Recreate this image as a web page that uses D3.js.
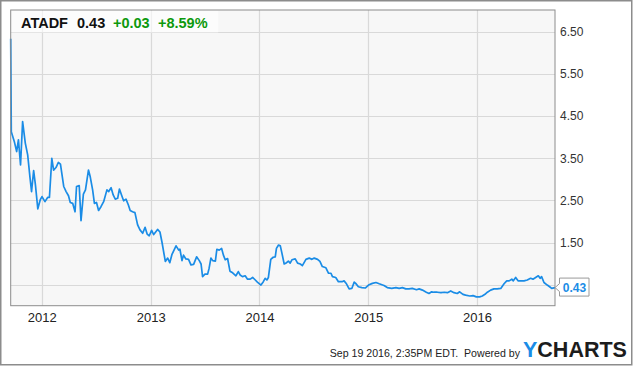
<!DOCTYPE html>
<html>
<head>
<meta charset="utf-8">
<script src="https://cdn.jsdelivr.net/npm/d3@7/dist/d3.min.js"></script>
<style>
  html, body { margin: 0; padding: 0; background: #fff; }
  svg { display: block; font-family: "Liberation Sans", Arial, sans-serif; }
</style>
</head>
<body>
<svg id="chart" width="635" height="366"></svg>
<script>
// ---- Data ----
const ticker = "ATADF";
const lastPrice = "0.43";
const change = "+0.03";
const changePct = "+8.59%";
const footerText = "Sep 19 2016, 2:35PM EDT.  Powered by";

const dates = [
  "2011-09-19","2011-09-21","2011-10-01","2011-10-09","2011-10-15","2011-10-22","2011-10-29","2011-11-07","2011-11-15","2011-11-23",
  "2011-11-28","2011-12-05","2011-12-11","2011-12-19","2011-12-27","2012-01-02","2012-01-12","2012-01-21","2012-01-27","2012-02-04",
  "2012-02-10","2012-02-18","2012-02-26","2012-03-04","2012-03-15","2012-03-23","2012-03-31","2012-04-06","2012-04-14","2012-04-22",
  "2012-04-27","2012-05-06","2012-05-12","2012-05-20","2012-05-27","2012-06-06","2012-06-12","2012-06-20","2012-06-26","2012-07-03",
  "2012-07-10","2012-07-18","2012-07-27","2012-08-07","2012-08-13","2012-08-21","2012-08-28","2012-09-04","2012-09-12","2012-09-18",
  "2012-09-25","2012-10-02","2012-10-10","2012-10-18","2012-10-24","2012-11-01","2012-11-09","2012-11-18","2012-11-26","2012-12-05",
  "2012-12-13","2012-12-20","2012-12-27","2013-01-04","2013-01-11","2013-01-24","2013-02-01","2013-02-08","2013-02-19","2013-02-27",
  "2013-03-06","2013-03-13","2013-03-27","2013-04-05","2013-04-09","2013-04-16","2013-04-21","2013-04-29","2013-05-08","2013-05-16",
  "2013-05-25","2013-06-04","2013-06-13","2013-06-19","2013-06-24","2013-07-02","2013-07-11","2013-07-16","2013-07-22","2013-07-28",
  "2013-08-06","2013-08-11","2013-08-19","2013-08-27","2013-09-02","2013-09-08","2013-09-16","2013-09-24","2013-10-03","2013-10-14",
  "2013-10-22","2013-10-28","2013-11-05","2013-11-14","2013-11-22","2013-12-01","2013-12-09","2013-12-18","2013-12-25","2014-01-06",
  "2014-01-14","2014-01-20","2014-01-26","2014-01-31","2014-02-08","2014-02-16","2014-02-23","2014-02-27","2014-03-06","2014-03-12",
  "2014-03-17","2014-03-25","2014-04-02","2014-04-08","2014-04-14","2014-04-20","2014-05-01","2014-05-09","2014-05-18","2014-05-25",
  "2014-06-06","2014-06-17","2014-06-26","2014-07-04","2014-07-15","2014-07-23","2014-07-31","2014-08-12","2014-08-21","2014-08-29",
  "2014-09-03","2014-09-14","2014-09-23","2014-10-05","2014-10-12","2014-10-20","2014-10-29","2014-11-07","2014-11-15","2014-11-20",
  "2014-11-29","2014-12-11","2014-12-22","2015-01-02","2015-01-15","2015-01-27","2015-02-07","2015-02-23","2015-03-06","2015-03-21",
  "2015-04-04","2015-04-15","2015-04-26","2015-05-07","2015-05-18","2015-05-29","2015-06-12","2015-06-21","2015-07-02","2015-07-15",
  "2015-07-24","2015-08-02","2015-08-10","2015-08-21","2015-09-02","2015-09-13","2015-09-24","2015-10-05","2015-10-16","2015-10-27",
  "2015-11-04","2015-11-15","2015-11-24","2015-12-08","2015-12-19","2015-12-30","2016-01-10","2016-01-19","2016-01-28","2016-02-05",
  "2016-02-16","2016-02-27","2016-03-09","2016-03-21","2016-04-01","2016-04-10","2016-04-18","2016-04-27","2016-05-02","2016-05-10",
  "2016-05-18","2016-05-27","2016-06-07","2016-06-18","2016-06-29","2016-07-07","2016-07-16","2016-07-25","2016-07-31","2016-08-05",
  "2016-08-13","2016-08-24","2016-09-01","2016-09-08","2016-09-19"
];
const prices = [
  6.34,4.13,3.90,3.66,3.94,3.34,4.37,3.86,3.58,3.03,
  2.71,3.21,2.87,2.30,2.51,2.59,2.47,2.57,2.57,3.50,
  3.22,3.28,3.40,3.36,2.83,2.71,2.61,2.45,2.43,2.23,
  2.83,2.85,2.02,2.65,2.75,3.22,3.06,2.75,2.43,2.45,
  2.26,2.35,2.47,2.75,2.71,2.80,2.63,2.53,2.55,2.77,
  2.63,2.49,2.53,2.39,2.26,2.23,2.21,1.92,1.80,1.72,
  1.86,1.70,1.66,1.79,1.69,1.81,1.75,1.50,1.05,1.13,
  1.02,1.21,1.42,1.32,1.34,1.07,1.20,1.11,1.10,0.97,
  0.98,1.16,1.07,0.99,0.69,0.75,0.75,0.89,1.13,1.07,
  1.06,1.34,1.32,1.36,1.20,1.09,1.12,0.82,0.78,0.71,
  0.81,0.73,0.69,0.71,0.63,0.63,0.67,0.61,0.56,0.49,
  0.57,0.65,0.61,0.67,1.10,1.15,1.16,1.36,1.44,1.42,
  1.26,0.99,1.02,1.06,1.01,1.09,1.11,1.01,0.99,0.95,
  1.10,1.13,1.10,1.13,1.10,1.05,0.93,0.90,0.77,0.77,
  0.69,0.67,0.57,0.57,0.59,0.52,0.40,0.41,0.56,0.53,
  0.45,0.43,0.42,0.49,0.53,0.55,0.52,0.48,0.43,0.41,
  0.43,0.41,0.43,0.40,0.40,0.41,0.38,0.40,0.37,0.32,
  0.29,0.33,0.32,0.32,0.31,0.32,0.31,0.35,0.31,0.29,
  0.33,0.27,0.25,0.23,0.24,0.21,0.21,0.23,0.27,0.32,
  0.37,0.40,0.40,0.41,0.52,0.59,0.59,0.63,0.59,0.67,
  0.59,0.59,0.59,0.61,0.65,0.63,0.67,0.71,0.65,0.69,
  0.55,0.49,0.45,0.41,0.43
];
const xTickYears = ["2012","2013","2014","2015","2016"];
const yGridValues = [0.5, 1.5, 2.5, 3.5, 4.5, 5.5, 6.5];
const yTickValues = [1.5, 2.5, 3.5, 4.5, 5.5, 6.5];
const yTickLabels = ["1.50","2.50","3.50","4.50","5.50","6.50"];
const xDomain = ["2011-09-19", "2016-09-19"];
const yDomain = [0, 7.02];

// ---- Layout ----
const plot = { left: 10.7, top: 10, right: 555, bottom: 305.7 };
const parse = d3.utcParse("%Y-%m-%d");
const data = dates.map((d, i) => ({ date: parse(d), value: prices[i] }));

const x = d3.scaleUtc().domain(xDomain.map(parse)).range([plot.left, plot.right]);
const y = d3.scaleLinear().domain(yDomain).range([plot.bottom, plot.top]);

const svg = d3.select("#chart");

// outer frame
svg.append("rect").attr("x", 0.75).attr("y", 0.75).attr("width", 631).attr("height", 364)
  .attr("fill", "#fff").attr("stroke", "#8c8c8c").attr("stroke-width", 1.5);

// plot background
svg.append("rect").attr("x", plot.left).attr("y", plot.top)
  .attr("width", plot.right - plot.left).attr("height", plot.bottom - plot.top)
  .attr("fill", "#f7f7f7");

// gridlines
const grid = svg.append("g").attr("stroke", "#d9d9d9").attr("stroke-width", 1.2);
grid.selectAll("line.h").data(yGridValues).join("line")
  .attr("x1", plot.left).attr("x2", plot.right)
  .attr("y1", d => Math.round(y(d)) + 0.5).attr("y2", d => Math.round(y(d)) + 0.5);
const yearDates = xTickYears.map(t => parse(t + "-01-01"));
grid.selectAll("line.v").data(yearDates).join("line")
  .attr("y1", plot.top).attr("y2", plot.bottom)
  .attr("x1", d => Math.round(x(d)) + 0.5).attr("x2", d => Math.round(x(d)) + 0.5);

// title box (semi-transparent)
svg.append("rect").attr("x", plot.left + 0.5).attr("y", plot.top + 0.5)
  .attr("width", 207).attr("height", 22).attr("fill", "rgba(255,255,255,0.6)");

// price line
const line = d3.line().x(d => x(d.date)).y(d => y(d.value));
svg.append("path").datum(data).attr("d", line)
  .attr("fill", "none").attr("stroke", "#1a8ce6").attr("stroke-width", 1.7)
  .attr("stroke-linejoin", "round");

// plot border
svg.append("rect").attr("x", plot.left).attr("y", plot.top)
  .attr("width", plot.right - plot.left).attr("height", plot.bottom - plot.top)
  .attr("fill", "none").attr("stroke", "#8c8c8c").attr("stroke-width", 1);

// title text
const title = svg.append("text").attr("y", 28).attr("font-size", 14.5).attr("font-weight", "bold");
title.append("tspan").attr("x", 21).attr("fill", "#111").text(ticker);
title.append("tspan").attr("x", 77).attr("fill", "#111").text(lastPrice);
title.append("tspan").attr("x", 113).attr("fill", "#0d990d").text(change);
title.append("tspan").attr("x", 158).attr("fill", "#0d990d").text(changePct);

// right axis
const yAxis = d3.axisRight(y).tickValues(yTickValues)
  .tickFormat((d, i) => yTickLabels[i]).tickSize(0).tickPadding(5);
const gy = svg.append("g").attr("transform", `translate(${plot.right},0)`).call(yAxis);
gy.select(".domain").remove();
gy.selectAll("text").attr("font-size", 12).attr("fill", "#333")
  .attr("font-family", "'Liberation Sans', Arial, sans-serif");

// bottom axis
const xAxis = d3.axisBottom(x).tickValues(yearDates)
  .tickFormat((d, i) => xTickYears[i]).tickSize(0).tickPadding(7);
const gx = svg.append("g").attr("transform", `translate(0,${plot.bottom})`).call(xAxis);
gx.select(".domain").remove();
gx.selectAll("text").attr("font-size", 13).attr("fill", "#222")
  .attr("font-family", "'Liberation Sans', Arial, sans-serif");

// last value tag
const last = data[data.length - 1];
const lx = x(last.date), ly = y(last.value);
const tag = svg.append("g");
tag.append("path")
  .attr("d", `M${lx},${ly} L${lx + 4.5},${ly - 4} L${lx + 4.5},${ly - 9.5} L${lx + 34},${ly - 9.5} L${lx + 34},${ly + 8.5} L${lx + 4.5},${ly + 8.5} L${lx + 4.5},${ly + 4} Z`)
  .attr("fill", "#fff").attr("stroke", "#999").attr("stroke-width", 1);
tag.append("text").attr("x", lx + 19.5).attr("y", ly + 4.5)
  .attr("text-anchor", "middle").attr("font-size", 12).attr("font-weight", "bold")
  .attr("fill", "#1a8ce6").text(lastPrice);

// footer
svg.append("text").attr("x", 520).attr("y", 357).attr("text-anchor", "end")
  .attr("font-size", 10.6).attr("fill", "#222").attr("xml:space", "preserve").text(footerText);
const logo = svg.append("text").attr("x", 523).attr("y", 357)
  .attr("font-size", 21.5).attr("font-weight", "bold");
logo.append("tspan").attr("fill", "#1a8ce6").text("Y");
logo.append("tspan").attr("fill", "#1c1c1c").text("CHARTS");
</script>
</body>
</html>
